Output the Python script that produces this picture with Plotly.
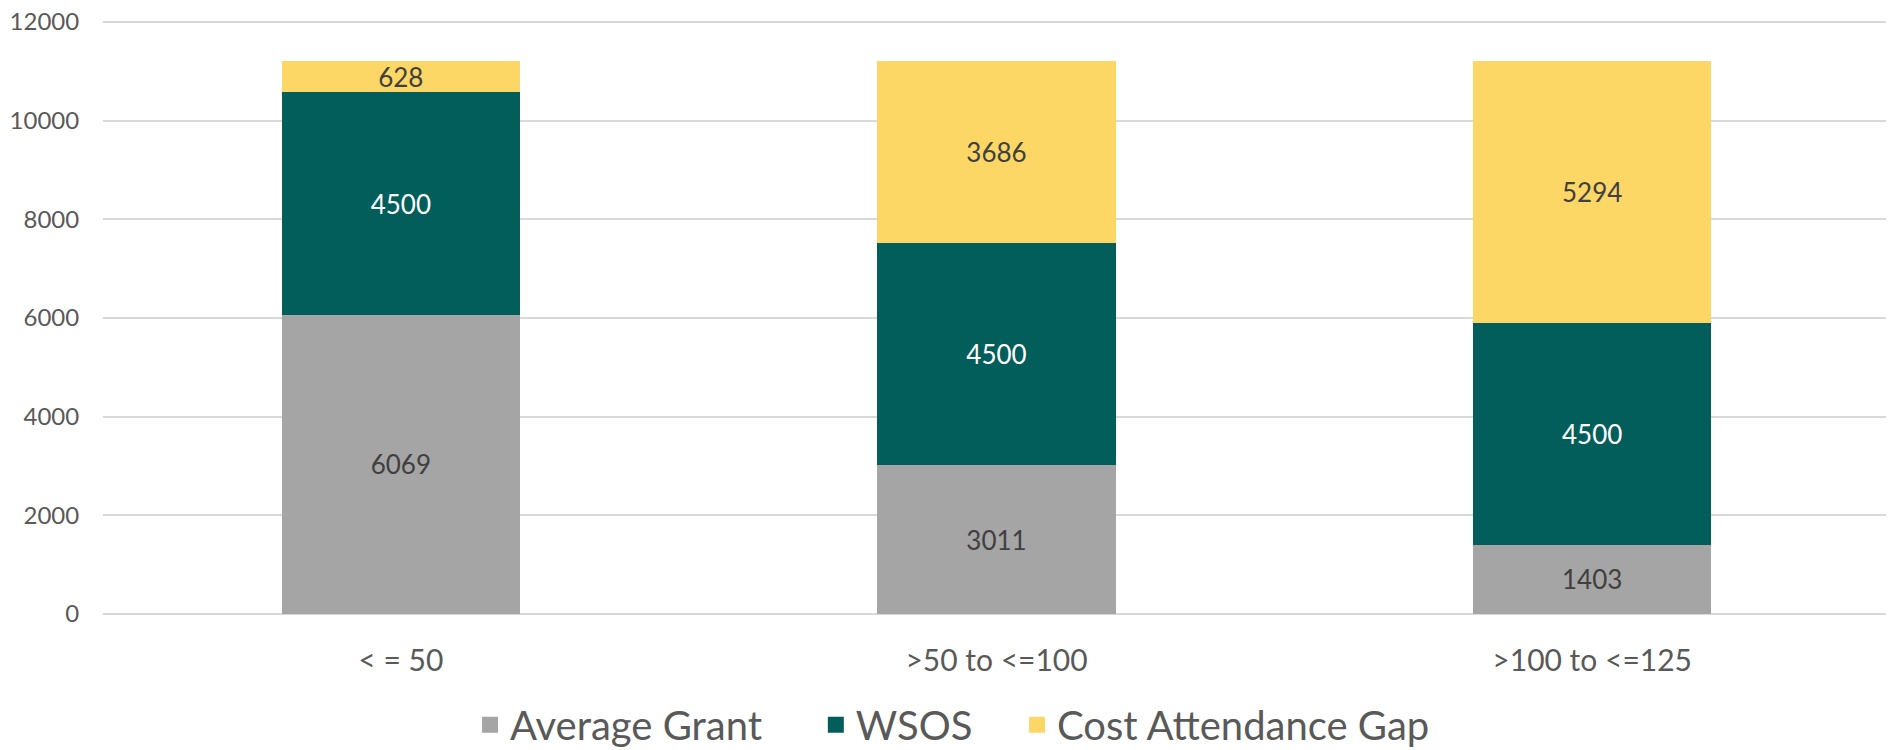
import plotly.graph_objects as go

# categories and stacked values
categories = ['< = 50', '>50 to <=100', '>100 to <=125']
average_grant = [6069, 3011, 1403]
wsos = [4500, 4500, 4500]
cost_attendance_gap = [628, 3686, 5294]
y_ticks = [0, 2000, 4000, 6000, 8000, 10000, 12000]

series_names = ['Average Grant', 'WSOS', 'Cost Attendance Gap']
series_values = [average_grant, wsos, cost_attendance_gap]
series_colors = ['#A5A5A5', '#025E5B', '#FDD766']
label_colors = ['#404040', '#FFFFFF', '#404040']

# one legend per series so each entry can be placed like the original
legend_ids = ['legend', 'legend2', 'legend3']
legend_x = [0.2054, 0.3989, 0.5115]

fig = go.Figure()
for name, values, color, label_color, legend_id in zip(series_names, series_values, series_colors, label_colors, legend_ids):
	fig.add_trace(go.Bar(
		x=categories,
		y=values,
		name=name,
		showlegend=False,
		marker=dict(color=color, line=dict(width=0)),
		text=[str(v) for v in values],
		textposition='inside',
		insidetextanchor='middle',
		textangle=0,
		constraintext='none',
		textfont=dict(family='Lato', size=26, color=label_color),
		hoverinfo='none'))
	# legend-only entry so the swatch can be a larger square
	fig.add_trace(go.Scatter(
		x=[None],
		y=[None],
		mode='markers',
		name=name,
		legend=legend_id,
		marker=dict(symbol='square', size=24, color=color),
		hoverinfo='none'))

legend_style = dict(
	orientation='h',
	xanchor='left',
	y=-0.184,
	yanchor='middle',
	font=dict(size=40, color='#595959'),
	itemwidth=30,
	bgcolor='rgba(0,0,0,0)')

# range runs a little past 12000 so the top grid line is not on the plot edge
fig.update_layout(
	barmode='stack',
	bargap=0.6,
	width=1894,
	height=750,
	margin=dict(l=95, r=12, t=4, b=144, autoexpand=False),
	plot_bgcolor='white',
	paper_bgcolor='white',
	font=dict(family='Lato', color='#595959'),
	legend=dict(x=legend_x[0], **legend_style),
	legend2=dict(x=legend_x[1], **legend_style),
	legend3=dict(x=legend_x[2], **legend_style),
	xaxis=dict(
		tickfont=dict(size=30, color='#595959'),
		showgrid=False,
		ticks='outside',
		ticklen=20,
		tickcolor='white',
		showline=False,
		automargin=False),
	yaxis=dict(
		range=[0, 12200],
		tickmode='array',
		tickvals=y_ticks,
		ticktext=[str(t) for t in y_ticks],
		ticklabeloverflow='allow',
		tickfont=dict(size=24, color='#595959'),
		showgrid=True,
		gridcolor='#D9D9D9',
		gridwidth=2,
		zeroline=True,
		zerolinecolor='#D9D9D9',
		zerolinewidth=2,
		ticks='outside',
		ticklen=18,
		tickcolor='white',
		automargin=False),
)

fig.write_html("out.html")
